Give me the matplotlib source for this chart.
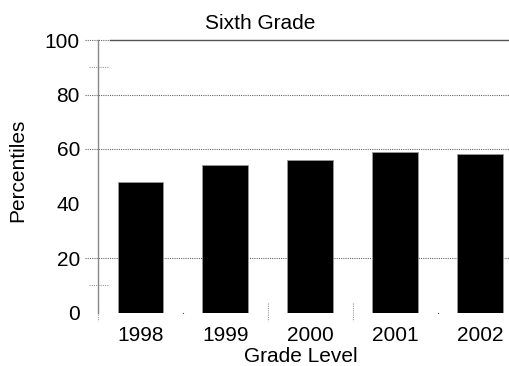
import matplotlib
matplotlib.use("Agg")
import matplotlib.pyplot as plt
import matplotlib.transforms as mtransforms

plt.rcParams['font.family'] = ['Liberation Sans', 'DejaVu Sans']

years = ['1998', '1999', '2000', '2001', '2002']
percentiles = [48, 54, 56, 59, 58]
y_ticks = [0, 20, 40, 60, 80, 100]
grid_levels = [20, 60, 80]
minor_levels = [10, 90]

W, H = 509, 366
fig = plt.figure(figsize=(W / 100, H / 100), dpi=100)

# axes run past the right edge of the figure
left_px, right_px, top_px, bottom_px = 98, 522.5, 40, 312.5
ax = fig.add_axes([left_px / W, 1 - bottom_px / H,
                   (right_px - left_px) / W, (bottom_px - top_px) / H])
ax_w = right_px - left_px

x = list(range(len(years)))
ax.bar(x, percentiles, width=0.54, color='black', edgecolor='#999999',
       linewidth=0.6, zorder=3)

ax.set_xlim(-0.5, len(years) - 0.5)
ax.set_ylim(0, 100)

for s in ['right', 'bottom', 'top']:
    ax.spines[s].set_visible(False)
ax.spines['left'].set_color('#888888')
ax.spines['left'].set_linewidth(1.0)

blend = mtransforms.blended_transform_factory(ax.transAxes, ax.transData)
ext = 13 / ax_w
dotted = (0, (1, 1))
for lv in grid_levels:
    ax.plot([-ext, 1.0], [lv, lv], transform=blend, color='#666666',
            linestyle=dotted, linewidth=0.8, clip_on=False, zorder=1)
# top border: dotted lead-in, then solid
ax.plot([-ext, 12 / ax_w], [100, 100], transform=blend, color='#666666',
        linestyle=dotted, linewidth=0.8, clip_on=False, zorder=1)
ax.plot([12 / ax_w, 1.0], [100, 100], transform=blend, color='#555555',
        linewidth=1.0, clip_on=False, zorder=2)
for lv in minor_levels:
    ax.plot([-9 / ax_w, 10 / ax_w], [lv, lv], transform=blend, color='#999999',
            linestyle=dotted, linewidth=0.8, clip_on=False, zorder=1)

# dotted separators below the baseline between categories
blend_x = mtransforms.blended_transform_factory(ax.transData, ax.transAxes)
px_h = bottom_px - top_px
for xs, full in [(-0.5, True), (0.5, False), (1.5, True), (2.5, True), (3.5, False)]:
    if full:
        ax.plot([xs, xs], [10 / px_h, -8 / px_h], transform=blend_x,
                color='#999999', linestyle=dotted, linewidth=0.8,
                clip_on=False, zorder=1)
    else:
        ax.plot([xs], [0], marker='s', markersize=0.8, markeredgewidth=0,
                color='#555555', clip_on=False, zorder=1)

ax.set_xticks(x)
ax.set_xticklabels(years, fontsize=15)
ax.set_yticks(y_ticks)
ax.set_yticklabels([str(v) for v in y_ticks], fontsize=15)
ax.tick_params(axis='x', length=0, pad=10)
ax.tick_params(axis='y', length=0, pad=13)

fig.text(260 / W, 1 - 29 / H, 'Sixth Grade', fontsize=15, ha='center', va='baseline')
fig.text(301 / W, 1 - 362 / H, 'Grade Level', fontsize=15, ha='center', va='baseline')
fig.text(18 / W, 1 - 170 / H, 'Percentiles', fontsize=15, ha='center', va='center',
         rotation=90)

fig.savefig('out.png', dpi=100)
